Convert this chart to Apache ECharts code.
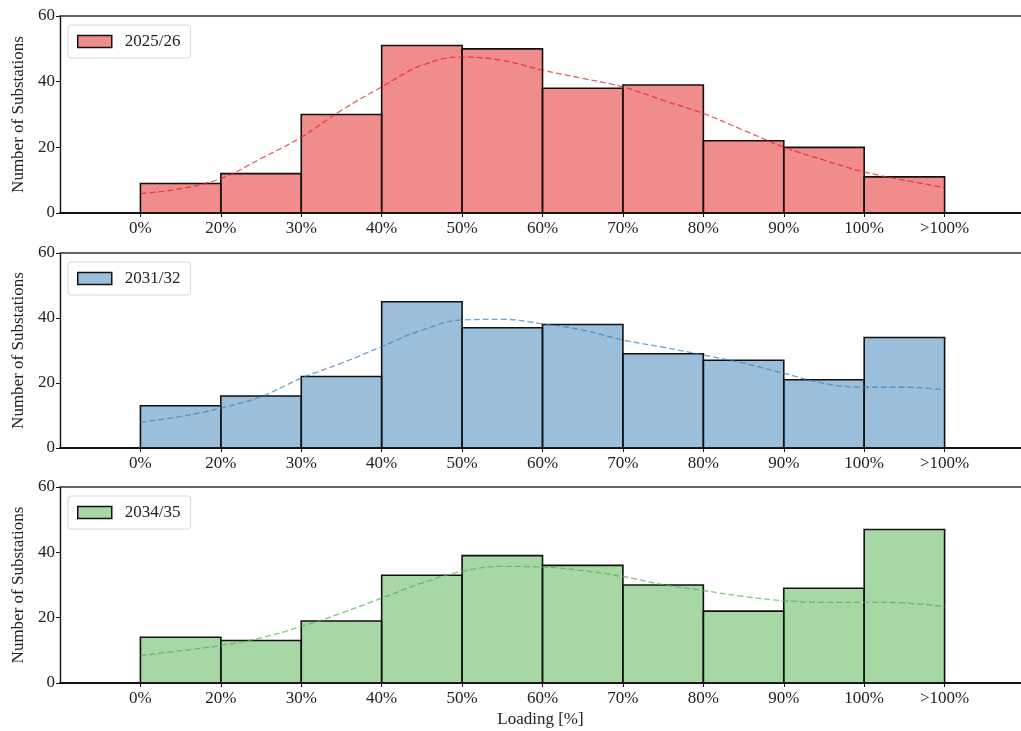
<!DOCTYPE html>
<html>
<head>
<meta charset="utf-8">
<script src="https://cdn.jsdelivr.net/npm/echarts@6/dist/echarts.min.js"></script>
<style>
  html, body { margin: 0; padding: 0; background: #fff; }
  #chart { width: 1021px; height: 731px; }
</style>
</head>
<body>
<div id="chart"></div>
<script>
// Loading bins (tick labels at bin edges)
const binLabels = ['0%', '20%', '30%', '40%', '50%', '60%', '70%', '80%', '90%', '100%', '>100%'];
const binEdges = [0, 1, 2, 3, 4, 5, 6, 7, 8, 9, 10];

// Substation counts per loading bin
const periods = ['2025/26', '2031/32', '2034/35'];
const counts2025 = [9, 12, 30, 51, 50, 38, 39, 22, 20, 11];
const counts2031 = [13, 16, 22, 45, 37, 38, 29, 27, 21, 34];
const counts2034 = [14, 13, 19, 33, 39, 36, 30, 22, 29, 47];

// Density estimate (scaled to counts), sampled at bin edges and bin centres
const kdePositions = [0, 0.5, 1, 1.5, 2, 2.5, 3, 3.5, 4, 4.5, 5, 5.5, 6, 6.5, 7, 7.5, 8, 8.5, 9, 9.5, 10];
const kde2025 = [5.9, 7.4, 10.5, 16.6, 23.1, 31.3, 38.4, 45.0, 47.5, 46.5, 43.5, 41.0, 38.4, 34.3, 30.3, 25.2, 20.1, 16.1, 12.5, 10.0, 7.7];
const kde2031 = [7.9, 9.7, 12.3, 15.8, 21.5, 26.1, 31.2, 36.3, 39.4, 39.6, 38.2, 36.3, 33.2, 31.0, 28.6, 26.1, 23.0, 19.9, 18.7, 18.7, 17.9];
const kde2034 = [8.4, 9.9, 11.5, 13.8, 17.3, 21.4, 26.0, 30.6, 34.2, 35.7, 35.5, 34.4, 32.6, 30.1, 28.3, 26.5, 25.2, 24.7, 24.7, 24.5, 23.4];

const yTicks = [0, 20, 40, 60];

const baseColors = ['#e41a1c', '#377eb8', '#4daf4a'];
const fillColors = ['rgba(228,26,28,0.5)', 'rgba(55,126,184,0.5)', 'rgba(77,175,74,0.5)'];
const countSets = [counts2025, counts2031, counts2034];
const kdeSets = [kde2025, kde2031, kde2034];

const FONT = '"Liberation Serif", "DejaVu Serif", serif';
const FS = 17;
const panels = [
  { top: 16, height: 197 },
  { top: 253, height: 195 },
  { top: 487, height: 196 }
];

const chart = echarts.init(document.getElementById('chart'), null, { renderer: 'canvas' });

const grids = [], xAxes = [], yAxes = [], series = [], legends = [];

panels.forEach((p, k) => {
  grids.push({ left: 60, right: 0, top: p.top, height: p.height, containLabel: false });

  // bottom axis with bin-edge labels
  xAxes.push({
    type: 'value', gridIndex: k, min: -1, max: 10.95, interval: 1,
    position: 'bottom',
    splitLine: { show: false },
    axisLine: { show: true, onZero: false, lineStyle: { color: '#111', width: 1.8 } },
    axisTick: { show: true, length: 4, customValues: binEdges, lineStyle: { color: '#111', width: 1 } },
    axisLabel: {
      show: true, customValues: binEdges,
      formatter: v => binLabels[v] ?? '',
      fontFamily: FONT, fontSize: FS, color: '#222', margin: 7
    },
    name: k === 2 ? 'Loading [%]' : '',
    nameLocation: 'middle', nameGap: 28,
    nameTextStyle: { fontFamily: FONT, fontSize: FS, color: '#222' }
  });
  // top frame line
  xAxes.push({
    type: 'value', gridIndex: k, min: -1, max: 10.95, interval: 1,
    position: 'top',
    splitLine: { show: false },
    axisLine: { show: true, onZero: false, lineStyle: { color: '#333', width: 1.6 } },
    axisTick: { show: false },
    axisLabel: { show: false }
  });
  yAxes.push({
    type: 'value', gridIndex: k, min: 0, max: 60, interval: 20,
    splitLine: { show: false },
    axisLine: { show: true, onZero: false, lineStyle: { color: '#111', width: 1.4 } },
    axisTick: { show: true, length: 4, lineStyle: { color: '#111', width: 1 } },
    axisLabel: {
      fontFamily: FONT, fontSize: FS, color: '#222', margin: 5,
      formatter: v => yTicks.includes(v) ? String(v) : ''
    },
    name: 'Number of Substations',
    nameLocation: 'middle', nameGap: 30, nameRotate: 90,
    nameTextStyle: { fontFamily: FONT, fontSize: FS, color: '#222' }
  });

  const fill = fillColors[k];
  series.push({
    name: periods[k],
    type: 'custom',
    xAxisIndex: 2 * k, yAxisIndex: k,
    encode: { x: 0, y: 1 },
    data: countSets[k].map((v, i) => [binEdges[i], v]),
    itemStyle: { color: fill, borderColor: '#111', borderWidth: 1.6 },
    renderItem: (params, api) => {
      const i = api.value(0), v = api.value(1);
      const p0 = api.coord([i, 0]);
      const p1 = api.coord([i + 1, v]);
      return {
        type: 'rect',
        shape: { x: p0[0], y: p1[1], width: p1[0] - p0[0], height: p0[1] - p1[1] },
        style: { fill: fill, stroke: '#111', lineWidth: 1.6 }
      };
    },
    z: 2
  });
  series.push({
    name: periods[k] + ' kde',
    type: 'line',
    xAxisIndex: 2 * k, yAxisIndex: k,
    data: kdePositions.map((x, i) => [x, kdeSets[k][i]]),
    smooth: 0.4, showSymbol: false, symbol: 'none',
    lineStyle: { color: baseColors[k], width: 1.3, type: [6, 3], opacity: 0.7 },
    z: 3, silent: true
  });

  legends.push({
    data: [{ name: periods[k], icon: 'rect', itemStyle: { color: fill, borderColor: '#111', borderWidth: 1.5 } }],
    left: 68, top: p.top + 9,
    orient: 'vertical',
    itemWidth: 34, itemHeight: 12,
    padding: [8, 10, 8, 9],
    backgroundColor: 'rgba(255,255,255,0.8)',
    borderColor: '#d6d6d6', borderWidth: 1, borderRadius: 3,
    textStyle: { fontFamily: FONT, fontSize: FS, color: '#222', padding: [0, 0, 0, 8] },
    selectedMode: false
  });
});

chart.setOption({
  animation: false,
  backgroundColor: '#fff',
  grid: grids,
  xAxis: xAxes,
  yAxis: yAxes,
  legend: legends,
  series: series
});
</script>
</body>
</html>
